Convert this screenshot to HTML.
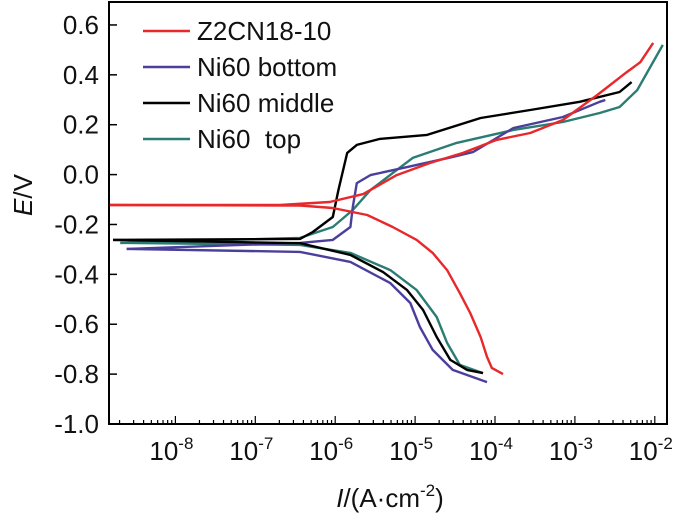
<!DOCTYPE html>
<html><head><meta charset="utf-8"><style>
body{margin:0;background:#fff;}
svg{display:block;font-family:"Liberation Sans",Arial,sans-serif;}
</style></head><body>
<svg id="c" width="700" height="517" viewBox="0 0 700 517"></svg>
<script>
const yTicks=[0.6,0.4,0.2,0.0,-0.2,-0.4,-0.6,-0.8,-1.0];
const yTickLabels=["0.6","0.4","0.2","0.0","-0.2","-0.4","-0.6","-0.8","-1.0"];
const xDecades=[-8,-7,-6,-5,-4,-3,-2];
const seriesNames=["Z2CN18-10","Ni60 bottom","Ni60 middle","Ni60  top"];
const redCathLog=[-8.82,-6.44,-6.03,-5.60,-5.28,-4.98,-4.78,-4.60,-4.44,-4.31,-4.18,-4.10,-4.04,-3.90];
const redCathE=[-0.122,-0.124,-0.134,-0.162,-0.210,-0.262,-0.314,-0.383,-0.475,-0.555,-0.651,-0.731,-0.775,-0.800];
const redAnoLog=[-8.82,-6.69,-6.07,-5.65,-5.23,-4.81,-4.40,-3.98,-3.56,-3.15,-2.72,-2.35,-2.18,-2.02];
const redAnoE=[-0.122,-0.122,-0.110,-0.078,-0.002,0.047,0.087,0.139,0.167,0.219,0.319,0.411,0.451,0.528];
const blueCathLog=[-8.61,-6.44,-5.81,-5.31,-5.06,-4.94,-4.78,-4.53,-4.10];
const blueCathE=[-0.298,-0.310,-0.350,-0.435,-0.515,-0.611,-0.703,-0.783,-0.832];
const blueAnoLog=[-8.61,-6.44,-6.03,-5.81,-5.78,-5.73,-5.56,-5.10,-4.53,-4.27,-3.77,-3.15,-2.69,-2.62];
const blueAnoE=[-0.298,-0.274,-0.262,-0.210,-0.130,-0.034,-0.002,0.030,0.071,0.091,0.187,0.231,0.292,0.299];
const blackCathLog=[-8.78,-6.44,-5.81,-5.40,-5.10,-4.90,-4.73,-4.56,-4.35,-4.15];
const blackCathE=[-0.262,-0.275,-0.322,-0.391,-0.463,-0.543,-0.651,-0.743,-0.783,-0.796];
const blackAnoLog=[-8.78,-6.44,-6.28,-6.03,-5.96,-5.85,-5.73,-5.44,-4.85,-4.18,-3.56,-2.94,-2.44,-2.29];
const blackAnoE=[-0.262,-0.258,-0.230,-0.170,-0.062,0.087,0.119,0.143,0.159,0.227,0.259,0.292,0.331,0.371];
const tealCathLog=[-8.69,-6.44,-5.81,-5.31,-4.98,-4.73,-4.60,-4.44,-4.15];
const tealCathE=[-0.274,-0.282,-0.314,-0.383,-0.463,-0.571,-0.675,-0.763,-0.796];
const tealAnoLog=[-8.69,-6.44,-6.03,-5.78,-5.56,-5.28,-5.03,-4.48,-3.77,-3.15,-2.69,-2.44,-2.22,-1.90];
const tealAnoE=[-0.274,-0.254,-0.210,-0.142,-0.062,0.006,0.067,0.127,0.179,0.211,0.247,0.271,0.339,0.520];

const NS="http://www.w3.org/2000/svg";
const svg=document.getElementById('c');
const L=109,R=667,T=2,B=424;
function xs(lg){return 175.4+(lg+8)*79.9;}
function ys(e){return 424-(e+1)*249.4;}
function mk(tag,attrs,parent){const el=document.createElementNS(NS,tag);for(const k in attrs)el.setAttribute(k,attrs[k]);(parent||svg).appendChild(el);return el;}

const frame=mk('rect',{x:L,y:T,width:R-L,height:B-T,fill:'none',stroke:'#000','stroke-width':2});



yTicks.forEach((v,i)=>{
  const y=ys(v);
  const t=mk('line',{x1:L,x2:L+8,y1:y,y2:y,stroke:'#000','stroke-width':1.5});
  
  
  const tx=mk('text',{x:99,y:y+9,'text-anchor':'end','font-size':26,fill:'#111'});
  tx.textContent=yTickLabels[i];
  
  
});
for(let d=-9;d<=-3;d++){
  for(let m=2;m<=9;m++){
    const x=xs(d+Math.log10(m));
    if(x<L+1||x>R-1) continue;
    const t=mk('line',{x1:x,x2:x,y1:B,y2:B-4,stroke:'#000','stroke-width':1.2});
    
    
  }
}
xDecades.forEach(d=>{
  const x=xs(d);
  const t=mk('line',{x1:x,x2:x,y1:B,y2:B-8,stroke:'#000','stroke-width':1.2});
  
  
  const tx=mk('text',{x:x-4,y:460,'text-anchor':'middle','font-size':26,fill:'#111'});
  
  
  tx.appendChild(document.createTextNode('10'));
  const sp=mk('tspan',{'font-size':17,dy:-11},tx);
  sp.textContent=String(d);
});

function line(logs,es,color,name){
  const p=logs.map((l,i)=>xs(l).toFixed(1)+','+ys(es[i]).toFixed(1)).join(' ');
  const el=mk('polyline',{points:p,fill:'none',stroke:color,'stroke-width':2.4,'stroke-linejoin':'round'});
  
  
}
const cRed='#e8282b',cBlue='#4b3f9c',cBlack='#000',cTeal='#2b7d73';
line(tealCathLog,tealCathE,cTeal,'ni60-top-cathodic');
line(tealAnoLog,tealAnoE,cTeal,'ni60-top-anodic');
line(blueCathLog,blueCathE,cBlue,'ni60-bottom-cathodic');
line(blueAnoLog,blueAnoE,cBlue,'ni60-bottom-anodic');
line(blackCathLog,blackCathE,cBlack,'ni60-middle-cathodic');
line(blackAnoLog,blackAnoE,cBlack,'ni60-middle-anodic');
line(redCathLog,redCathE,cRed,'z2cn18-10-cathodic');
line(redAnoLog,redAnoE,cRed,'z2cn18-10-anodic');

const legColors=[cRed,cBlue,cBlack,cTeal];
seriesNames.forEach((n,i)=>{
  const y=31+i*36;
  const l=mk('line',{x1:143,x2:190,y1:y,y2:y,stroke:legColors[i],'stroke-width':2.4});
  
  
  const t=mk('text',{x:197,y:y+9,'font-size':26,fill:'#111'});
  t.style.whiteSpace='pre';
  t.textContent=n;
  
  
});

const xt=mk('text',{x:390,y:507,'text-anchor':'middle','font-size':26,fill:'#111'});


const i1=mk('tspan',{'font-style':'italic'},xt);i1.textContent='I';
const i2=mk('tspan',{},xt);i2.textContent='/(A·cm';
const i3=mk('tspan',{'font-size':17,dy:-11},xt);i3.textContent='-2';
const i4=mk('tspan',{dy:11},xt);i4.textContent=')';

const yt=mk('text',{x:0,y:0,'text-anchor':'middle','font-size':26,fill:'#111',transform:'translate(32,195) rotate(-90)'});


const e1=mk('tspan',{'font-style':'italic'},yt);e1.textContent='E';
const e2=mk('tspan',{},yt);e2.textContent='/V';
</script>
</body></html>
